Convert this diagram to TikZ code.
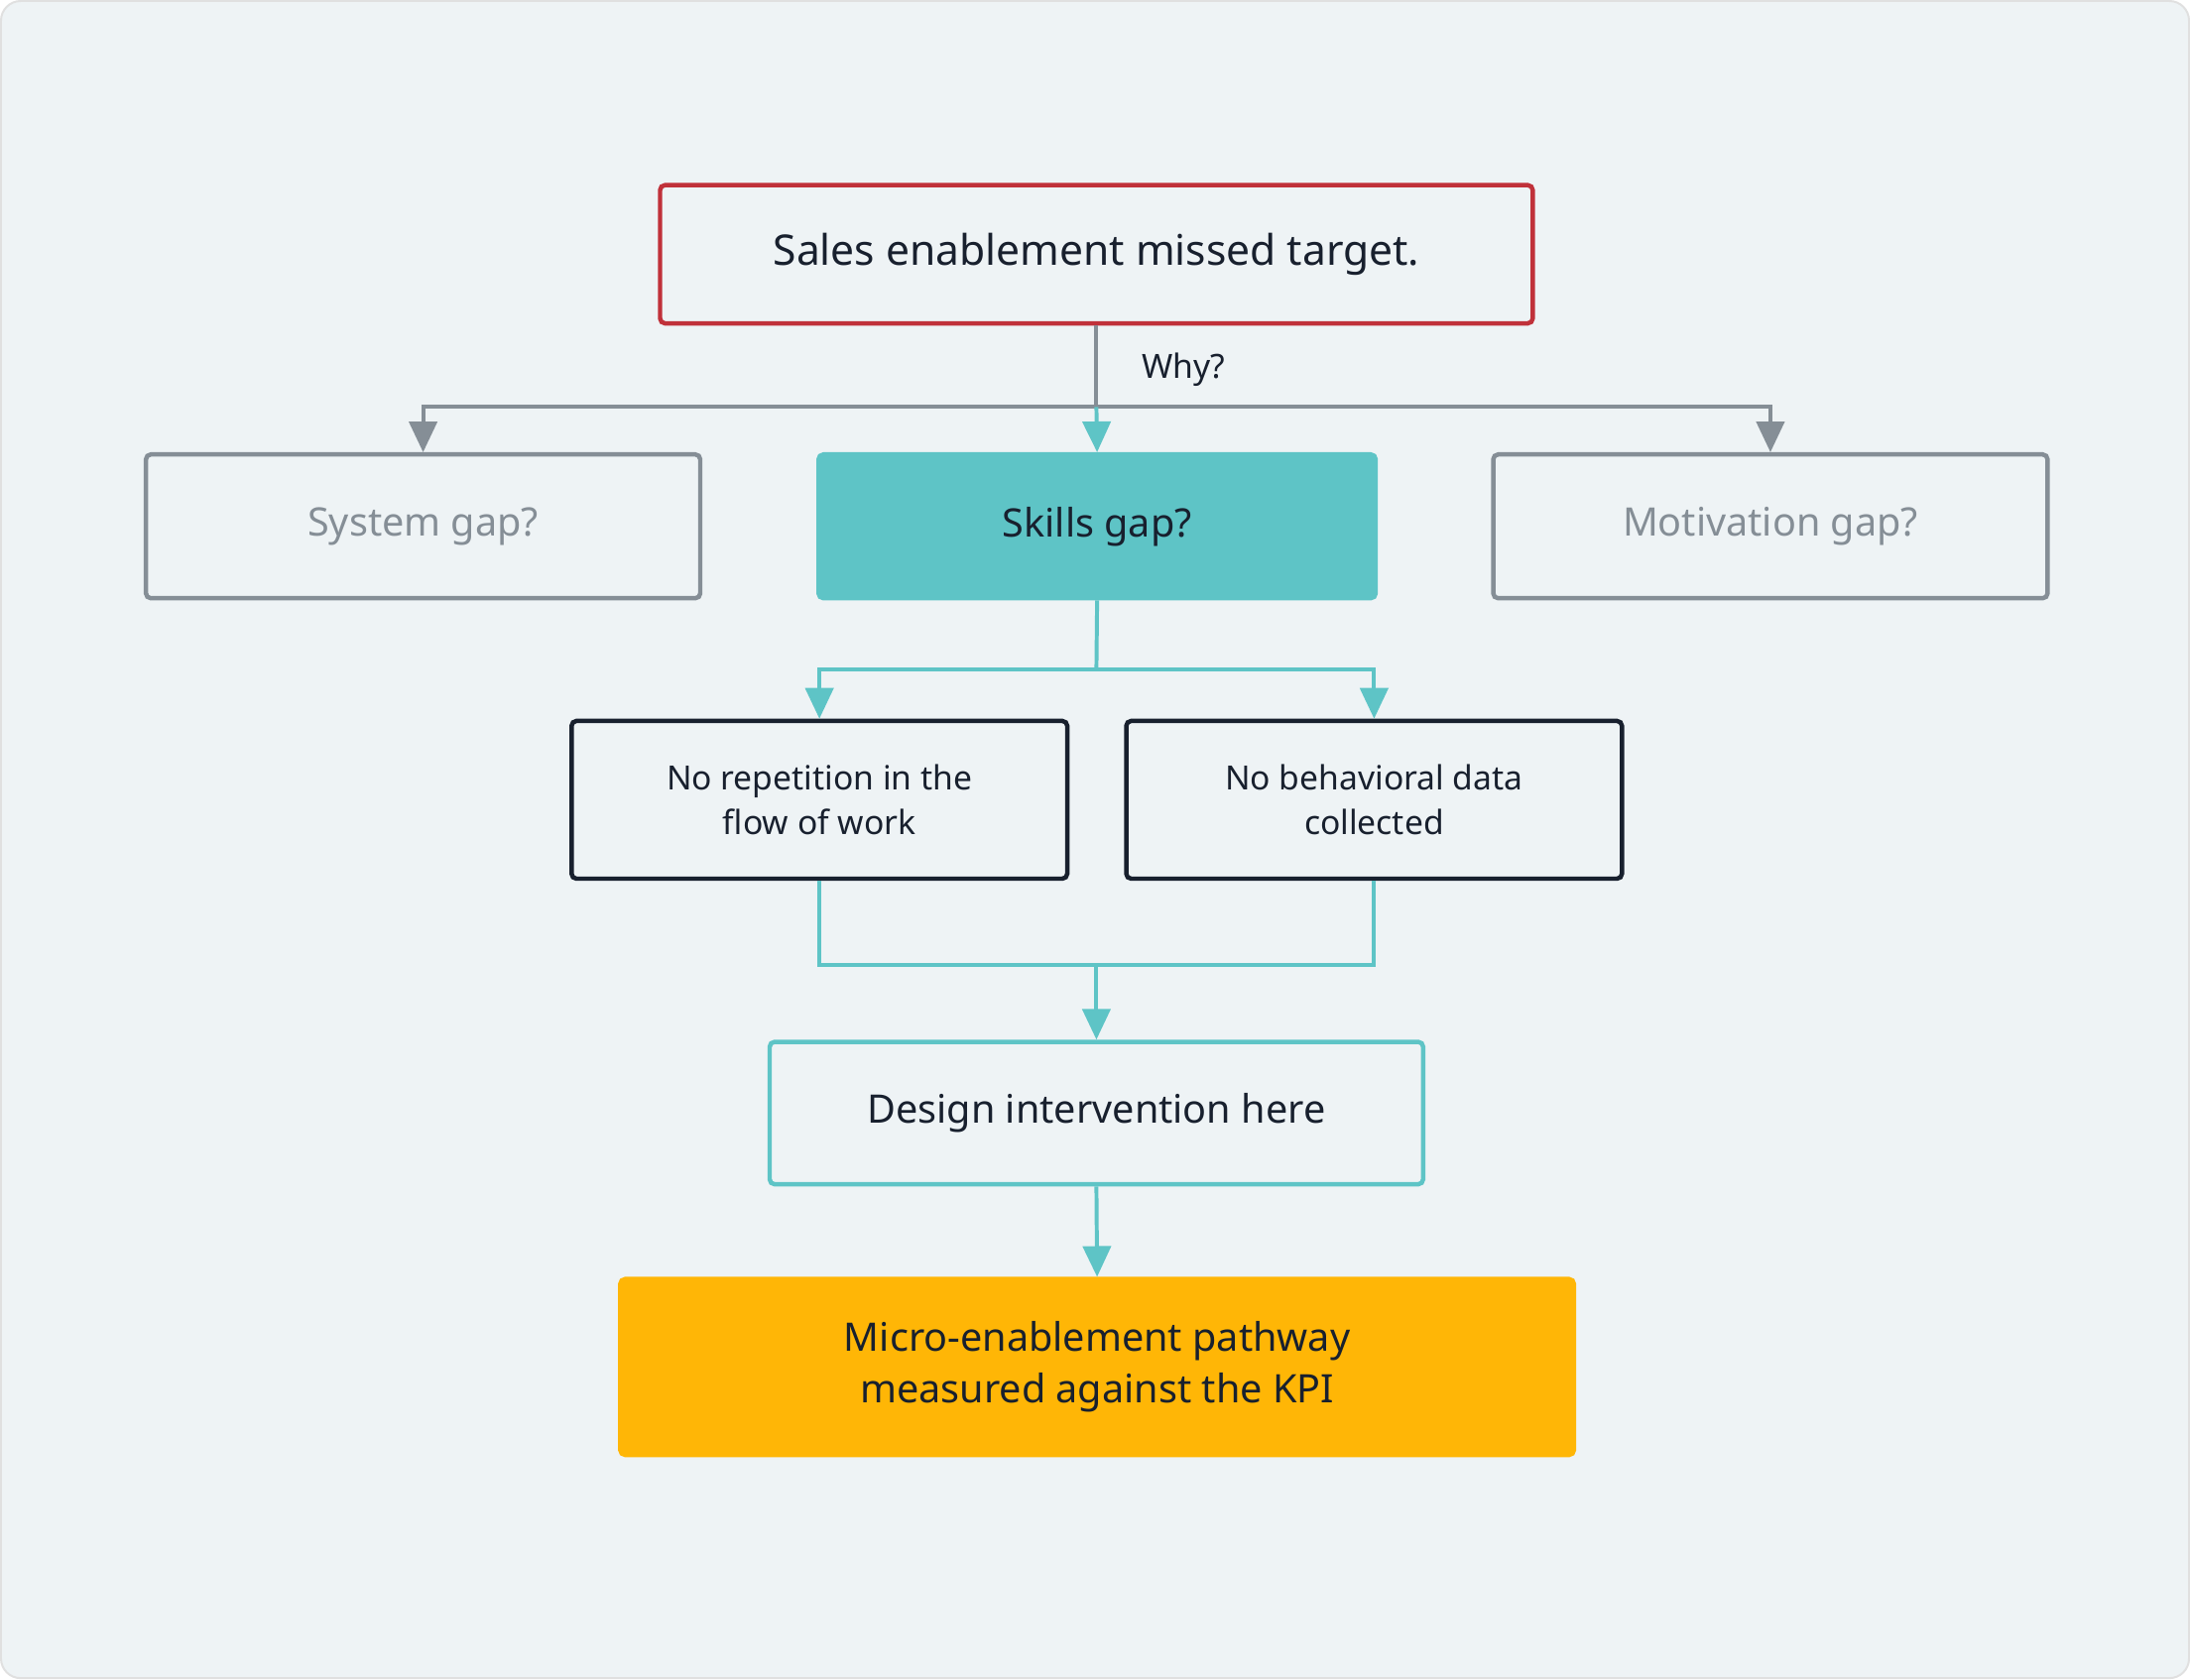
\documentclass[tikz,border=0pt]{standalone}
\usepackage{fontspec}
\setmainfont{Noto Sans}
\usetikzlibrary{positioning,calc,arrows.meta}
\definecolor{bgc}{HTML}{EEF3F5}
\definecolor{redc}{HTML}{C0313A}
\definecolor{grayc}{HTML}{858E96}
\definecolor{tealc}{HTML}{5EC4C6}
\definecolor{darkc}{HTML}{18202E}
\definecolor{yelc}{HTML}{FFB606}
\tikzset{
  box/.style={draw, line width=0.9pt, rounded corners=1pt, minimum width=#1, align=center, text=darkc},
  gapbox/.style={box=3.97cm, minimum height=1.03cm, draw=grayc, text=grayc, font=\fontsize{8pt}{10pt}\selectfont},
  causebox/.style={box=3.55cm, minimum height=1.13cm, draw=darkc, font=\fontsize{6.8pt}{9pt}\selectfont},
  conn/.style={line width=0.8pt, -{Triangle[length=2.2mm,width=2mm]}},
}
\begin{document}
\begin{tikzpicture}[x=0.01cm, y=-0.01cm]
  \draw[fill=bgc, draw=black!12, rounded corners=4pt] (0,0) rectangle (1568,1202);

  \node[box=6.25cm, minimum height=0.99cm, draw=redc, font=\bfseries\fontsize{8.6pt}{10pt}\selectfont] (top) at (785,181.5) {Sales enablement missed target.};

  \node[gapbox] (sys) at (302.5,376.5) {System gap?};
  \node[box=3.99cm, minimum height=1.03cm, draw=tealc, fill=tealc, font=\bfseries\fontsize{8pt}{10pt}\selectfont] (skill) at (785.5,376.5) {Skills gap?};
  \node[gapbox] (mot) at (1268,376.5) {Motivation gap?};

  \node[causebox] (rep) at (586.5,572.5) {No repetition in the\\flow of work};
  \node[causebox] (beh) at (984,572.5) {No behavioral data\\collected};

  \node[box=4.68cm, minimum height=1.02cm, draw=tealc, font=\bfseries\fontsize{8pt}{10pt}\selectfont] (design) at (785,797) {Design intervention here};

  \node[box=6.83cm, minimum height=1.26cm, draw=yelc, fill=yelc, font=\bfseries\fontsize{8pt}{10.5pt}\selectfont] (path) at (785.5,979) {Micro-enablement pathway\\measured against the KPI};

  % why branches
  \coordinate (why) at (785,291);
  \draw[grayc, line width=0.8pt] (top.south) -- (why);
  \node[font=\bfseries\fontsize{6.8pt}{8pt}\selectfont, text=darkc, anchor=west] (whylbl) at (805,264) {Why?};
  \draw[conn, grayc] (why) -| (sys.north);
  \draw[conn, grayc] (why) -| (mot.north);
  \draw[conn, tealc] (why) -- (skill.north);

  % causes
  \coordinate (split) at (785,479);
  \draw[tealc, line width=0.8pt] (skill.south) -- (split);
  \draw[conn, tealc] (split) -| (rep.north);
  \draw[conn, tealc] (split) -| (beh.north);

  % merge
  \coordinate (merge) at (785,691);
  \draw[tealc, line width=0.8pt] (rep.south) |- (merge) -| (beh.south);
  \draw[conn, tealc] (merge) -- (design.north);
  \draw[conn, tealc] (design.south) -- (path.north);
\end{tikzpicture}
\end{document}
